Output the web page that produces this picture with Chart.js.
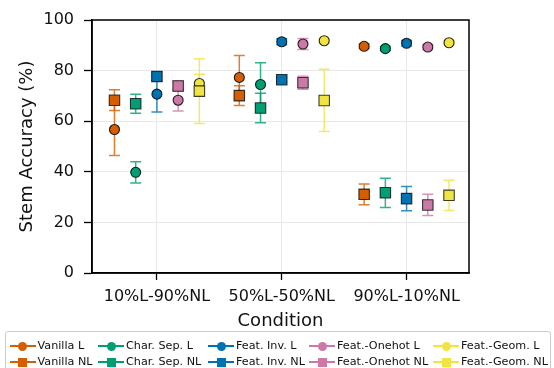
<!DOCTYPE html>
<html>
<head>
<meta charset="utf-8">
<script src="https://cdn.jsdelivr.net/npm/chart.js@4.4.1/dist/chart.umd.min.js"></script>
<style>
  html, body { margin: 0; padding: 0; background: #fff; }
  #wrap { position: relative; width: 554px; height: 368px; overflow: hidden; font-family: 'DejaVu Sans', sans-serif; }
  #c { position: absolute; left: 0; top: 0; }
  #legend { position: absolute; left: 5px; top: 331px; width: 546px; height: 40px; border: 1px solid #cccccc; border-radius: 3px; box-sizing: border-box; }
  .item { position: absolute; height: 14px; font-size: 11.2px; color: #111; white-space: nowrap; }
  .item .ln { position: absolute; top: 5.8px; height: 2.6px; }
  .item .mk { position: absolute; top: 2.5px; width: 9px; height: 9px; }
  .item .tx { position: absolute; top: 0; line-height: 14px; }
</style>
</head>
<body>
<div id="wrap">
  <canvas id="c" width="554" height="334"></canvas>
  <div id="legend"></div>
</div>
<script>
// conditions on the x axis
var categories = ['10%L-90%NL', '50%L-50%NL', '90%L-10%NL'];
var methods = ['Vanilla', 'Char. Sep.', 'Feat. Inv.', 'Feat.-Onehot', 'Feat.-Geom.'];
var colors = ['#D55E00', '#009E73', '#0072B2', '#CC79A7', '#F0E442'];

// mean stem accuracy (%) per condition, "L" runs
var vanillaL = [56.7, 77.3, 89.6];
var charSepL = [39.8, 74.5, 88.7];
var featInvL = [70.7, 91.4, 90.8];
var onehotL  = [68.3, 90.5, 89.3];
var geomL    = [74.9, 91.8, 91.0];
// error (±) for the L runs
var vanillaLErr = [10.3, 8.7, 1.0];
var charSepLErr = [4.2, 8.6, 0.8];
var featInvLErr = [7.1, 1.2, 1.1];
var onehotLErr  = [4.3, 2.2, 1.0];
var geomLErr    = [3.7, 0.8, 0.7];

// "NL" runs
var vanillaNL = [68.3, 70.1, 31.1];
var charSepNL = [66.9, 65.2, 31.7];
var featInvNL = [77.7, 76.4, 29.4];
var onehotNL  = [73.9, 75.2, 26.9];
var geomNL    = [71.9, 68.2, 30.7];
var vanillaNLErr = [4.1, 3.9, 4.1];
var charSepNLErr = [3.8, 5.8, 5.8];
var featInvNLErr = [1.7, 0.9, 4.8];
var onehotNLErr  = [2.0, 2.6, 4.2];
var geomNLErr    = [12.8, 12.3, 6.0];

var yTicks = [0, 20, 40, 60, 80, 100];

var seriesL   = [vanillaL, charSepL, featInvL, onehotL, geomL];
var seriesLE  = [vanillaLErr, charSepLErr, featInvLErr, onehotLErr, geomLErr];
var seriesNL  = [vanillaNL, charSepNL, featInvNL, onehotNL, geomNL];
var seriesNLE = [vanillaNLErr, charSepNLErr, featInvNLErr, onehotNLErr, geomNLErr];

// dodge within each condition
var dodge = [-0.34, -0.17, 0, 0.17, 0.34];

function alpha(hex, a) {
  var n = parseInt(hex.slice(1), 16);
  return 'rgba(' + (n >> 16 & 255) + ',' + (n >> 8 & 255) + ',' + (n & 255) + ',' + a + ')';
}

function points(vals, m) {
  return vals.map(function (v, g) { return { x: g + dodge[m], y: v }; });
}

var datasets = [];
methods.forEach(function (name, m) {
  datasets.push({
    label: name + ' L', data: points(seriesL[m], m), err: seriesLE[m],
    backgroundColor: colors[m], borderColor: 'rgba(0,0,0,0.85)', borderWidth: 1.1,
    pointStyle: 'circle', pointRadius: 5, order: 20 - 2 * m
  });
  datasets.push({
    label: name + ' NL', data: points(seriesNL[m], m), err: seriesNLE[m],
    backgroundColor: colors[m], borderColor: 'rgba(0,0,0,0.75)', borderWidth: 1.1,
    pointStyle: 'rect', pointRadius: 7.4, order: 19 - 2 * m
  });
});

// error bars + closed frame, drawn through the chart's scales
var errorBars = {
  id: 'errorBars',
  beforeDatasetsDraw: function (chart) {
    var ctx = chart.ctx, ys = chart.scales.y;
    ctx.save();
    chart.data.datasets.forEach(function (ds, i) {
      var meta = chart.getDatasetMeta(i);
      var col = alpha(colors[Math.floor(i / 2)], 0.8);
      ds.data.forEach(function (p, j) {
        var x = meta.data[j].x;
        var top = ys.getPixelForValue(p.y + ds.err[j]);
        var bot = ys.getPixelForValue(p.y - ds.err[j]);
        ctx.strokeStyle = col;
        ctx.lineWidth = 1.5;
        ctx.beginPath();
        ctx.moveTo(x, top); ctx.lineTo(x, bot);
        ctx.moveTo(x - 5.5, top); ctx.lineTo(x + 5.5, top);
        ctx.moveTo(x - 5.5, bot); ctx.lineTo(x + 5.5, bot);
        ctx.stroke();
      });
    });
    ctx.restore();
  },
  afterDraw: function (chart) {
    var a = chart.chartArea, ctx = chart.ctx;
    ctx.save();
    ctx.strokeStyle = '#000';
    ctx.lineWidth = 1.5;
    ctx.strokeRect(a.left, a.top, a.right - a.left, a.bottom - a.top);
    ctx.restore();
  }
};

Chart.defaults.font.family = "'DejaVu Sans', sans-serif";
Chart.defaults.color = '#111';

new Chart(document.getElementById('c'), {
  type: 'scatter',
  data: { datasets: datasets },
  options: {
    responsive: false, animation: false,
    layout: { padding: { left: 14, right: 85, top: 20, bottom: 0 } },
    plugins: { legend: { display: false }, tooltip: { enabled: false } },
    scales: {
      x: {
        type: 'linear', min: -0.52, max: 2.5,
        afterBuildTicks: function (s) { s.ticks = categories.map(function (c, i) { return { value: i }; }); },
        afterFit: function (s) { s.height = 61; },
        ticks: { font: { size: 16 }, padding: 7, maxRotation: 0, autoSkip: false,
                 callback: function (v) { return categories[v]; } },
        grid: { color: '#e8e8e8', lineWidth: 1, tickColor: '#000', tickLength: 7, tickWidth: 1.3 },
        border: { color: '#000', width: 1.5 },
        title: { display: true, text: 'Condition', font: { size: 18 }, padding: { top: 0, bottom: 2 } }
      },
      y: {
        min: 0, max: 100,
        afterBuildTicks: function (s) { s.ticks = yTicks.map(function (v) { return { value: v }; }); },
        afterFit: function (s) { s.width = 78; },
        ticks: { font: { size: 16 }, padding: 10 },
        grid: { color: '#e8e8e8', lineWidth: 1, tickColor: '#000', tickLength: 8, tickWidth: 1.3 },
        border: { color: '#000', width: 1.5 },
        title: { display: true, text: 'Stem Accuracy (%)', font: { size: 18 }, padding: { top: 3, bottom: 0 } }
      }
    }
  },
  plugins: [errorBars]
});

// legend: five columns, L on the first row and NL on the second
var legendText = [37.5, 126, 236, 337, 461];
var legend = document.getElementById('legend');
methods.forEach(function (name, m) {
  [0, 1].forEach(function (row) {
    var end = legendText[m] - 2;
    var start = end - 26;
    var it = document.createElement('div');
    it.className = 'item';
    it.style.left = '-6px';
    it.style.top = (row ? 23 : 7) + 'px';
    var ln = document.createElement('div');
    ln.className = 'ln';
    ln.style.left = start + 'px';
    ln.style.width = (end - start) + 'px';
    ln.style.background = colors[m];
    var mk = document.createElement('div');
    mk.className = 'mk';
    mk.style.left = ((start + end) / 2 - 4.5) + 'px';
    mk.style.background = colors[m];
    if (!row) mk.style.borderRadius = '50%';
    var tx = document.createElement('div');
    tx.className = 'tx';
    tx.style.left = legendText[m] + 'px';
    tx.textContent = name + (row ? ' NL' : ' L');
    it.appendChild(ln); it.appendChild(mk); it.appendChild(tx);
    legend.appendChild(it);
  });
});
</script>
</body>
</html>
